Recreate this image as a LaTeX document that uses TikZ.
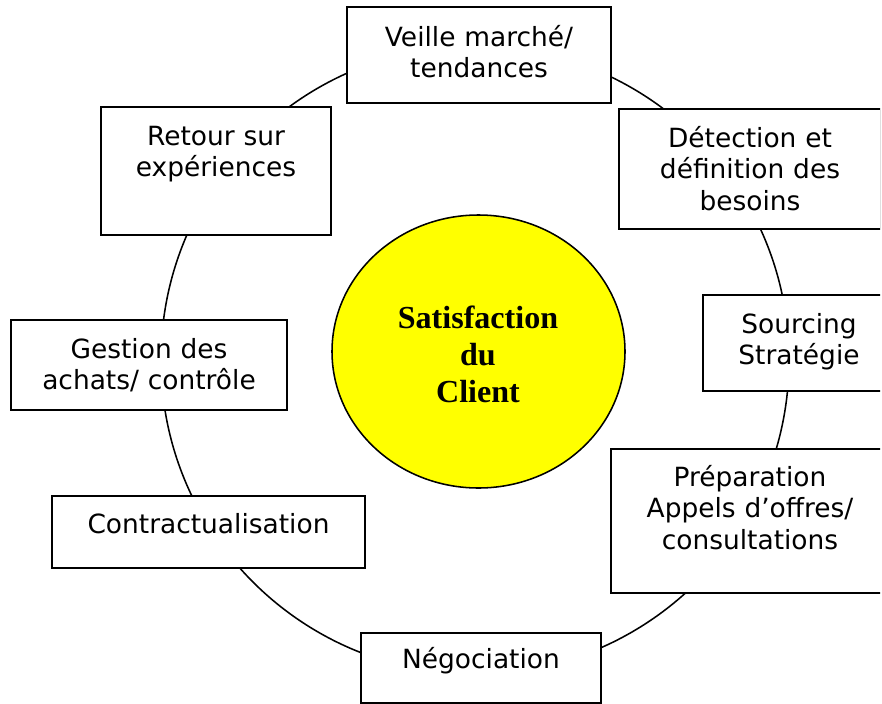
\documentclass[tikz,border=0pt]{standalone}
\usepackage{fontspec}
\usepackage{tikz}
\usetikzlibrary{shapes.geometric}
\newfontfamily\boxfont{DejaVu Sans}
\newfontfamily\clientfont{Liberation Serif}
\definecolor{satyellow}{RGB}{255,255,0}
\newdimen\pxu \pxu=0.025cm

\begin{document}
\begin{tikzpicture}[x=0.025cm,y=-0.025cm]

  \useasboundingbox (0,0) rectangle (882,704);
  \clip (0,-5) rectangle (880,710);

  % node styles
  \tikzstyle{Box}=[
  anchor=base,
  draw,
  line width=1.4pt,
  fill=white,
  align=center,
  inner sep=0pt,
  font=\boxfont\fontsize{18.8}{22.7}\selectfont,
  shape=rectangle]

  \tikzstyle{Label}=[anchor=base,align=center,inner sep=0pt,text width=250\pxu,
  font=\clientfont\bfseries\fontsize{22.8}{26.6}\selectfont]

  % ring and centre
  \coordinate (X) at (475,360);
  \draw[line width=1.1pt] (X) circle[radius=314];

  \node[ellipse,draw,line width=1.1pt,fill=satyellow,inner sep=0pt,
        minimum width=293\pxu,minimum height=273\pxu] (S) at (478.5,351.5) {};
  \node[Label] (ST) at (478,328) {Satisfaction\\du\\Client};

  % steps
  \node[Box,text width=264\pxu,text height=39\pxu,text depth=57\pxu]  (B1) at (479,46)  {Veille marché/\\tendances};
  \node[Box,text width=262\pxu,text height=38\pxu,text depth=82\pxu]  (B2) at (750,147) {Détection et\\définition des\\besoins};
  \node[Box,text width=192\pxu,text height=38\pxu,text depth=58\pxu]  (B3) at (799,333) {Sourcing\\Stratégie};
  \node[Box,text width=278\pxu,text height=37\pxu,text depth=107\pxu] (B4) at (750,486) {Préparation\\Appels d’offres/\\consultations};
  \node[Box,text width=240\pxu,text height=35\pxu,text depth=35\pxu]  (B5) at (481,668) {Négociation};
  \node[Box,text width=313\pxu,text height=37\pxu,text depth=35\pxu]  (B6) at (208.5,533) {Contractualisation};
  \node[Box,text width=276\pxu,text height=38\pxu,text depth=52\pxu]  (B7) at (149,358) {Gestion des\\achats/ contrôle};
  \node[Box,text width=230\pxu,text height=38\pxu,text depth=90\pxu]  (B8) at (216,145) {Retour sur\\expériences};

\end{tikzpicture}
\end{document}
